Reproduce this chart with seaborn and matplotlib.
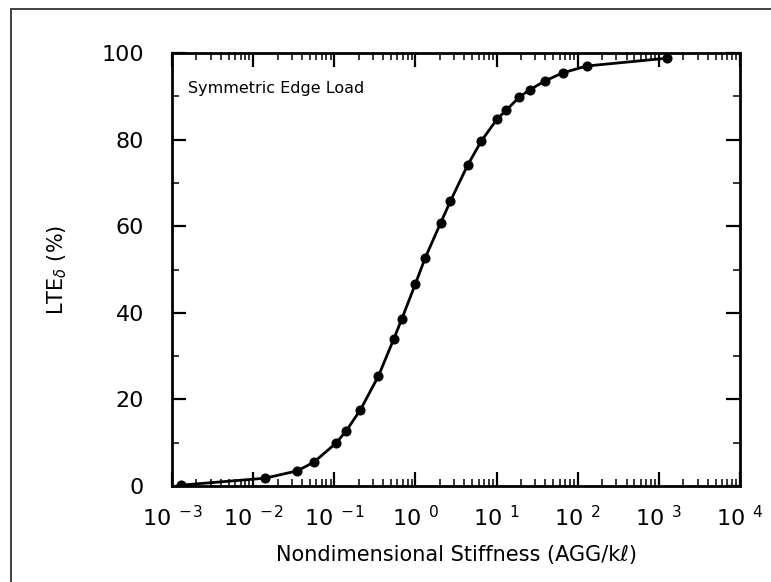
import numpy as np
import pandas as pd
import matplotlib
matplotlib.use("Agg")
import matplotlib.pyplot as plt
import seaborn as sns
from matplotlib.ticker import MultipleLocator, LogLocator, NullFormatter, FixedLocator
from matplotlib.lines import Line2D

# ---- data ----
stiffness = [0.0013, 0.014, 0.035, 0.056, 0.105, 0.14, 0.21, 0.35, 0.54, 0.68,
             1.0, 1.32, 2.04, 2.7, 4.4, 6.5, 10.2, 13.2, 19.0, 25.7, 39.0, 65.0,
             129.0, 1260.0]
lte = [0.2, 1.8, 3.5, 5.5, 9.9, 12.7, 17.6, 25.4, 33.9, 38.6,
       46.7, 52.7, 60.7, 65.8, 74.1, 79.7, 84.8, 86.8, 89.8, 91.5, 93.5, 95.4,
       97.0, 98.8]
x_exponents = [-3, -2, -1, 0, 1, 2, 3, 4]
y_ticks = [0, 20, 40, 60, 80, 100]

df = pd.DataFrame({"stiffness": stiffness, "lte": lte})

sns.set_theme(style="ticks")
plt.rcParams["font.family"] = ["DejaVu Sans"]
plt.rcParams["mathtext.fontset"] = "dejavusans"

W, H = 771, 582
fig = plt.figure(figsize=(W / 100, H / 100), dpi=100)
left, right, top, bottom = 172, 740, 53, 486
ax = fig.add_axes([left / W, 1 - bottom / H, (right - left) / W, (bottom - top) / H])

sns.lineplot(data=df, x="stiffness", y="lte", ax=ax, color="black",
             linewidth=2.0, marker="o", markersize=6.5, markeredgecolor="black",
             markerfacecolor="black", sort=False)

ax.set_xscale("log")
ax.set_xlim(1e-3, 1e4)
ax.set_ylim(0, 100)

ax.xaxis.set_major_locator(FixedLocator([10.0 ** e for e in x_exponents]))
ax.set_xticklabels([r"$\mathregular{10}^{\;\;\mathregular{%d}}$" % e for e in x_exponents])
ax.xaxis.set_minor_locator(LogLocator(base=10, subs=np.arange(2, 10), numticks=20))
ax.xaxis.set_minor_formatter(NullFormatter())

ax.set_yticks(y_ticks)
ax.set_yticklabels([str(v) for v in y_ticks])
ax.yaxis.set_minor_locator(MultipleLocator(10))

for s in ax.spines.values():
    s.set_linewidth(2.0)
    s.set_color("black")
    s.set_visible(True)

ax.tick_params(which="major", direction="in", length=10, width=1.6,
               top=True, right=True, labelsize=16, colors="black")
ax.tick_params(which="minor", direction="in", length=5, width=1.3,
               top=True, right=True)
ax.tick_params(axis="y", which="major", pad=20)
ax.tick_params(axis="x", which="major", pad=14)

ax.set_xlabel("Nondimensional Stiffness (AGG/k\u2113)", fontsize=15, color="black")
ax.xaxis.set_label_coords(0.5, -(555 - bottom) / (bottom - top) , transform=ax.transAxes)
ax.xaxis.label.set_va("center")
ax.set_ylabel(r"LTE$_{\delta}$ (%)", fontsize=15, color="black")
ax.yaxis.set_label_coords(-(left - 57) / (right - left), 0.5)
ax.yaxis.label.set_va("center")

ax.text((188 - left) / (right - left), (bottom - 89) / (bottom - top),
        "Symmetric Edge Load", transform=ax.transAxes, fontsize=11.5,
        ha="left", va="center", color="black")

ax.grid(False)
ax.set_facecolor("white")

# outer frame (only left and top edges visible in the reference)
fx = 11 / W
fy = 1 - 9 / H
fig.add_artist(Line2D([fx, fx], [0, fy], transform=fig.transFigure, color="#333333", linewidth=1.3))
fig.add_artist(Line2D([fx, 1], [fy, fy], transform=fig.transFigure, color="#333333", linewidth=1.3))

fig.savefig("out.png", dpi=100, facecolor="white")
